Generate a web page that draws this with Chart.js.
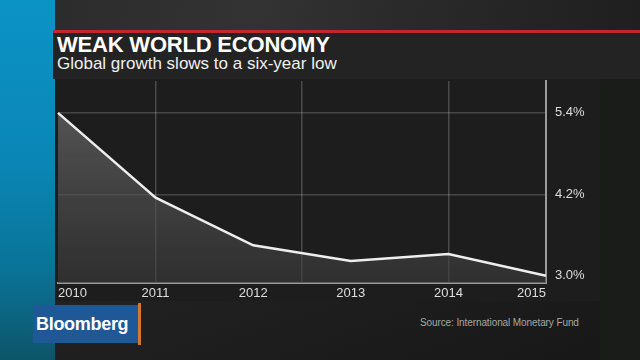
<!DOCTYPE html>
<html>
<head>
<meta charset="utf-8">
<script src="https://cdn.jsdelivr.net/npm/chart.js@4.4.1/dist/chart.umd.min.js"></script>
<style>
  html, body { margin: 0; padding: 0; background: #1e1e1e; }
  #stage {
    position: relative; width: 640px; height: 360px; overflow: hidden;
    background: linear-gradient(160deg, #303030 0%, #262626 35%, #1d1e1d 70%, #161716 100%);
    font-family: "Liberation Sans", Arial, sans-serif;
  }
  .abs { position: absolute; }
  #topband { left: 0; top: 0; width: 640px; height: 30px;
    background: linear-gradient(100deg, #2a2a2a 0%, #333 40%, #2b2b2b 60%, #1f1f1f 100%); }
  #bluebar { left: 0; top: 0; width: 55px; height: 360px;
    background: linear-gradient(180deg, #0c93c6 0%, #0a86b6 45%, #0a7397 75%, #0d5568 100%); }
  #redline { left: 53px; top: 30px; width: 587px; height: 3px; background: #c2272b; }
  #banner { left: 53px; top: 33px; width: 587px; height: 46px; background: #222322; }
  #panel { left: 55px; top: 79px; width: 545px; height: 222px; background: #1c1d1c; }
  #rightside { left: 600px; top: 79px; width: 40px; height: 281px; background: #1a1c1a; }
  #title { left: 57px; top: 33px; color: #fff; font-weight: bold; font-size: 22px;
    letter-spacing: -0.2px; white-space: nowrap; line-height: 24px; }
  #subtitle { left: 57px; top: 54px; color: #f0f0f0; font-size: 17px; white-space: nowrap; line-height: 20px; }
  #logo { left: 33px; top: 305px; width: 105px; height: 38px; background: #1f5896; }
  #logobar { left: 138px; top: 303px; width: 3px; height: 42px; background: #d4782e; }
  #logotext { left: 36px; top: 313px; color: #fff; font-weight: bold; font-size: 18px;
    letter-spacing: -0.3px; line-height: 22px; white-space: nowrap; }
  #source { left: 420px; top: 316px; color: #a8a8a8; font-size: 10px; letter-spacing: -0.1px;
    white-space: nowrap; line-height: 14px; }
  canvas { position: absolute; left: 0; top: 0; }
</style>
</head>
<body>
<div id="stage">
  <div class="abs" id="topband"></div>
  <div class="abs" id="panel"></div>
  <div class="abs" id="rightside"></div>
  <div class="abs" id="bluebar"></div>
  <div class="abs" id="redline"></div>
  <div class="abs" id="banner"></div>
  <div class="abs" id="title">WEAK WORLD ECONOMY</div>
  <div class="abs" id="subtitle">Global growth slows to a six-year low</div>
  <div class="abs" id="logo"></div>
  <div class="abs" id="logobar"></div>
  <div class="abs" id="logotext">Bloomberg</div>
  <div class="abs" id="source">Source: International Monetary Fund</div>
  <canvas id="c" width="640" height="360"></canvas>
</div>
<script>
// ---- data ----
const years = ["2010", "2011", "2012", "2013", "2014", "2015"];
const growth = [5.4, 4.15, 3.45, 3.22, 3.32, 3.0];
const yTicks = [3.0, 4.2, 5.4];
const xGridYears = [2011, 2012.5, 2014];

const ctx = document.getElementById('c').getContext('2d');
new Chart(ctx, {
  type: 'line',
  data: {
    labels: years,
    datasets: [{
      data: growth,
      borderColor: '#eeeeee',
      borderWidth: 2.5,
      pointRadius: 0,
      tension: 0,
      fill: 'start',
      backgroundColor: (c) => {
        const a = c.chart.chartArea;
        if (!a) return 'rgba(100,100,100,0.6)';
        const g = c.chart.ctx.createLinearGradient(0, a.top, 0, a.bottom);
        g.addColorStop(0, 'rgba(112,112,112,0.75)');
        g.addColorStop(1, 'rgba(60,60,60,0.6)');
        return g;
      }
    }]
  },
  options: {
    responsive: false,
    devicePixelRatio: 1,
    animation: false,
    layout: { padding: { left: 58, top: 81, right: 0, bottom: 0 } },
    plugins: { legend: { display: false }, tooltip: { enabled: false }, title: { display: false } },
    scales: {
      x: {
        type: 'category',
        offset: false,
        position: 'bottom',
        grid: { display: false, drawTicks: false },
        border: { display: true, color: '#9a9a9a', width: 2 },
        ticks: {
          align: 'inner', padding: 3, color: '#dedede', maxRotation: 0, autoSkip: false,
          font: { family: '"Liberation Sans", Arial, sans-serif', size: 13 }
        },
        afterFit: (s) => { s.height = 77; }
      },
      xg: {
        type: 'linear',
        position: 'top',
        min: 2010, max: 2015,
        afterBuildTicks: (s) => { s.ticks = xGridYears.map(v => ({ value: v })); },
        grid: { display: true, drawTicks: false, color: 'rgba(255,255,255,0.2)', lineWidth: 1.5 },
        border: { display: false },
        ticks: { display: false },
        afterFit: (s) => { s.height = 0; }
      },
      y: {
        position: 'right',
        min: 2.894, max: 5.87,
        afterBuildTicks: (s) => { s.ticks = yTicks.map(v => ({ value: v })); },
        grid: {
          drawTicks: false, lineWidth: 1.5,
          color: (c) => (c.tick && c.tick.value === 3.0) ? 'rgba(0,0,0,0)' : 'rgba(255,255,255,0.18)'
        },
        border: { display: true, color: '#9a9a9a', width: 2 },
        ticks: {
          padding: 9, color: '#dedede',
          font: { family: '"Liberation Sans", Arial, sans-serif', size: 13 },
          callback: (v) => Number(v).toFixed(1) + '%'
        },
        afterFit: (s) => { s.width = 94; }
      }
    }
  }
});
</script>
</body>
</html>
